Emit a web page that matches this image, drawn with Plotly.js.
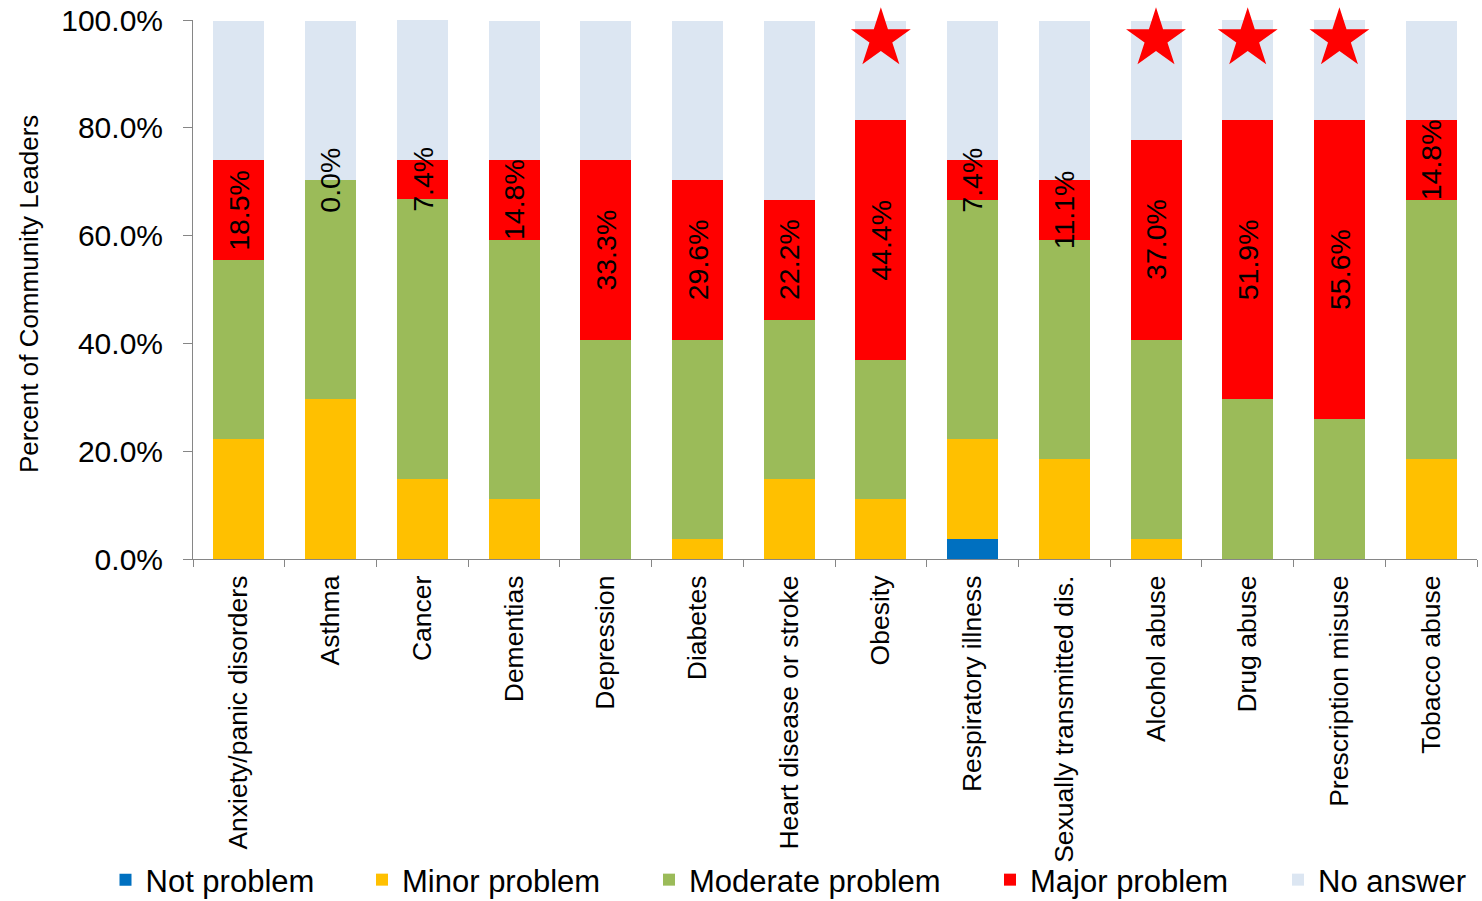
<!DOCTYPE html>
<html>
<head>
<meta charset="utf-8">
<script src="https://cdn.plot.ly/plotly-3.0.1.min.js"></script>
<style>
  html, body { margin: 0; padding: 0; background: #ffffff; }
  #chart { width: 1482px; height: 901px; }
</style>
</head>
<body>
<div id="chart"></div>
<script>
// ---- Data (percent of community leaders) ----
const categories = [
  'Anxiety/panic disorders', 'Asthma', 'Cancer', 'Dementias', 'Depression',
  'Diabetes', 'Heart disease or stroke', 'Obesity', 'Respiratory illness',
  'Sexually transmitted dis.', 'Alcohol abuse', 'Drug abuse',
  'Prescription misuse', 'Tobacco abuse'
];
const notProblem = [0, 0, 0, 0, 0, 0, 0, 0, 3.7, 0, 0, 0, 0, 0];
const minorProblem = [22.2, 29.6, 14.8, 11.1, 0, 3.7, 14.8, 11.1, 18.5, 18.5, 3.7, 0, 0, 18.5];
const moderateProblem = [33.3, 40.7, 51.9, 48.1, 40.7, 37.0, 29.6, 25.9, 44.4, 40.7, 37.0, 29.6, 25.9, 48.1];
const majorProblem = [18.5, 0.0, 7.4, 14.8, 33.3, 29.6, 22.2, 44.4, 7.4, 11.1, 37.0, 51.9, 55.6, 14.8];
const noAnswer = [25.9, 29.6, 25.9, 25.9, 25.9, 29.6, 33.3, 18.5, 25.9, 29.6, 22.2, 18.5, 18.5, 18.5];
const seriesNames = ['Not problem', 'Minor problem', 'Moderate problem', 'Major problem', 'No answer'];
const starCategories = ['Obesity', 'Alcohol abuse', 'Drug abuse', 'Prescription misuse'];
const starLevel = 96.5;
const yAxisTitle = 'Percent of Community Leaders';

// ---- Styles ----
const FONT = 'Liberation Sans, Arial, sans-serif';
const colors = ['#0070C0', '#FFC000', '#9BBB59', '#FF0000', '#DCE6F2'];
const legendIds = ['legend', 'legend2', 'legend3', 'legend4', 'legend5'];
const legendCenters = [125.5, 382, 669, 1010, 1298];

const seriesValues = [notProblem, minorProblem, moderateProblem, majorProblem, noAnswer];

const traces = seriesValues.map((vals, i) => ({
  type: 'bar',
  name: seriesNames[i],
  x: categories,
  y: vals,
  marker: { color: colors[i], line: { width: 0 } },
  legend: legendIds[i],
  hoverinfo: 'skip'
}));

traces.push({
  type: 'scatter',
  mode: 'markers',
  x: starCategories,
  y: starCategories.map(() => starLevel),
  marker: { symbol: 'star', size: 45, color: '#FF0000', line: { width: 0 } },
  showlegend: false,
  cliponaxis: false,
  hoverinfo: 'skip'
});

// Labels for the Major problem segments, centred in each segment
const annotations = categories.map((c, i) => {
  const base = notProblem[i] + minorProblem[i] + moderateProblem[i];
  return {
    x: c,
    y: base + majorProblem[i] / 2,
    xref: 'x', yref: 'y',
    text: majorProblem[i].toFixed(1) + '%',
    textangle: -90,
    showarrow: false,
    xanchor: 'center', yanchor: 'middle',
    font: { family: FONT, size: 28.5, color: '#000000' }
  };
});

// y-axis title placed in the left margin
annotations.push({
  xref: 'paper', yref: 'paper',
  x: -0.1275, y: 0.492,
  text: yAxisTitle,
  textangle: -90,
  showarrow: false,
  xanchor: 'center', yanchor: 'middle',
  font: { family: FONT, size: 26, color: '#000000' }
});

const layout = {
  width: 1482,
  height: 901,
  margin: { l: 193, r: 5, t: 20, b: 342, autoexpand: false },
  paper_bgcolor: '#ffffff',
  plot_bgcolor: '#ffffff',
  font: { family: FONT, color: '#000000' },
  barmode: 'stack',
  bargap: 0.444,
  showlegend: true,
  xaxis: {
    type: 'category',
    tickson: 'boundaries',
    ticks: 'outside',
    ticklen: 7,
    tickcolor: '#868686',
    tickwidth: 1,
    showline: true,
    linecolor: '#868686',
    linewidth: 1,
    showgrid: false,
    zeroline: false,
    tickangle: -90,
    ticklabelstandoff: 5,
    tickfont: { family: FONT, size: 26.5, color: '#000000' },
    automargin: false
  },
  yaxis: {
    range: [0, 100],
    dtick: 20,
    tick0: 0,
    tickformat: '.1f',
    ticksuffix: '%',
    ticks: 'outside',
    ticklen: 9,
    tickcolor: '#868686',
    showline: true,
    linecolor: '#868686',
    linewidth: 1,
    showgrid: false,
    zeroline: false,
    ticklabelstandoff: 14,
    tickfont: { family: FONT, size: 30, color: '#000000' },
    automargin: false
  },
  annotations: annotations
};

legendIds.forEach((id, i) => {
  layout[id] = {
    orientation: 'h',
    xref: 'container', yref: 'container',
    x: (legendCenters[i] - 20) / 1482,
    xanchor: 'left',
    y: 1 - 880 / 901,
    yanchor: 'middle',
    bgcolor: 'rgba(0,0,0,0)',
    borderwidth: 0,
    font: { family: FONT, size: 31, color: '#000000' }
  };
});

Plotly.newPlot('chart', traces, layout, { displayModeBar: false, staticPlot: true });
</script>
</body>
</html>
